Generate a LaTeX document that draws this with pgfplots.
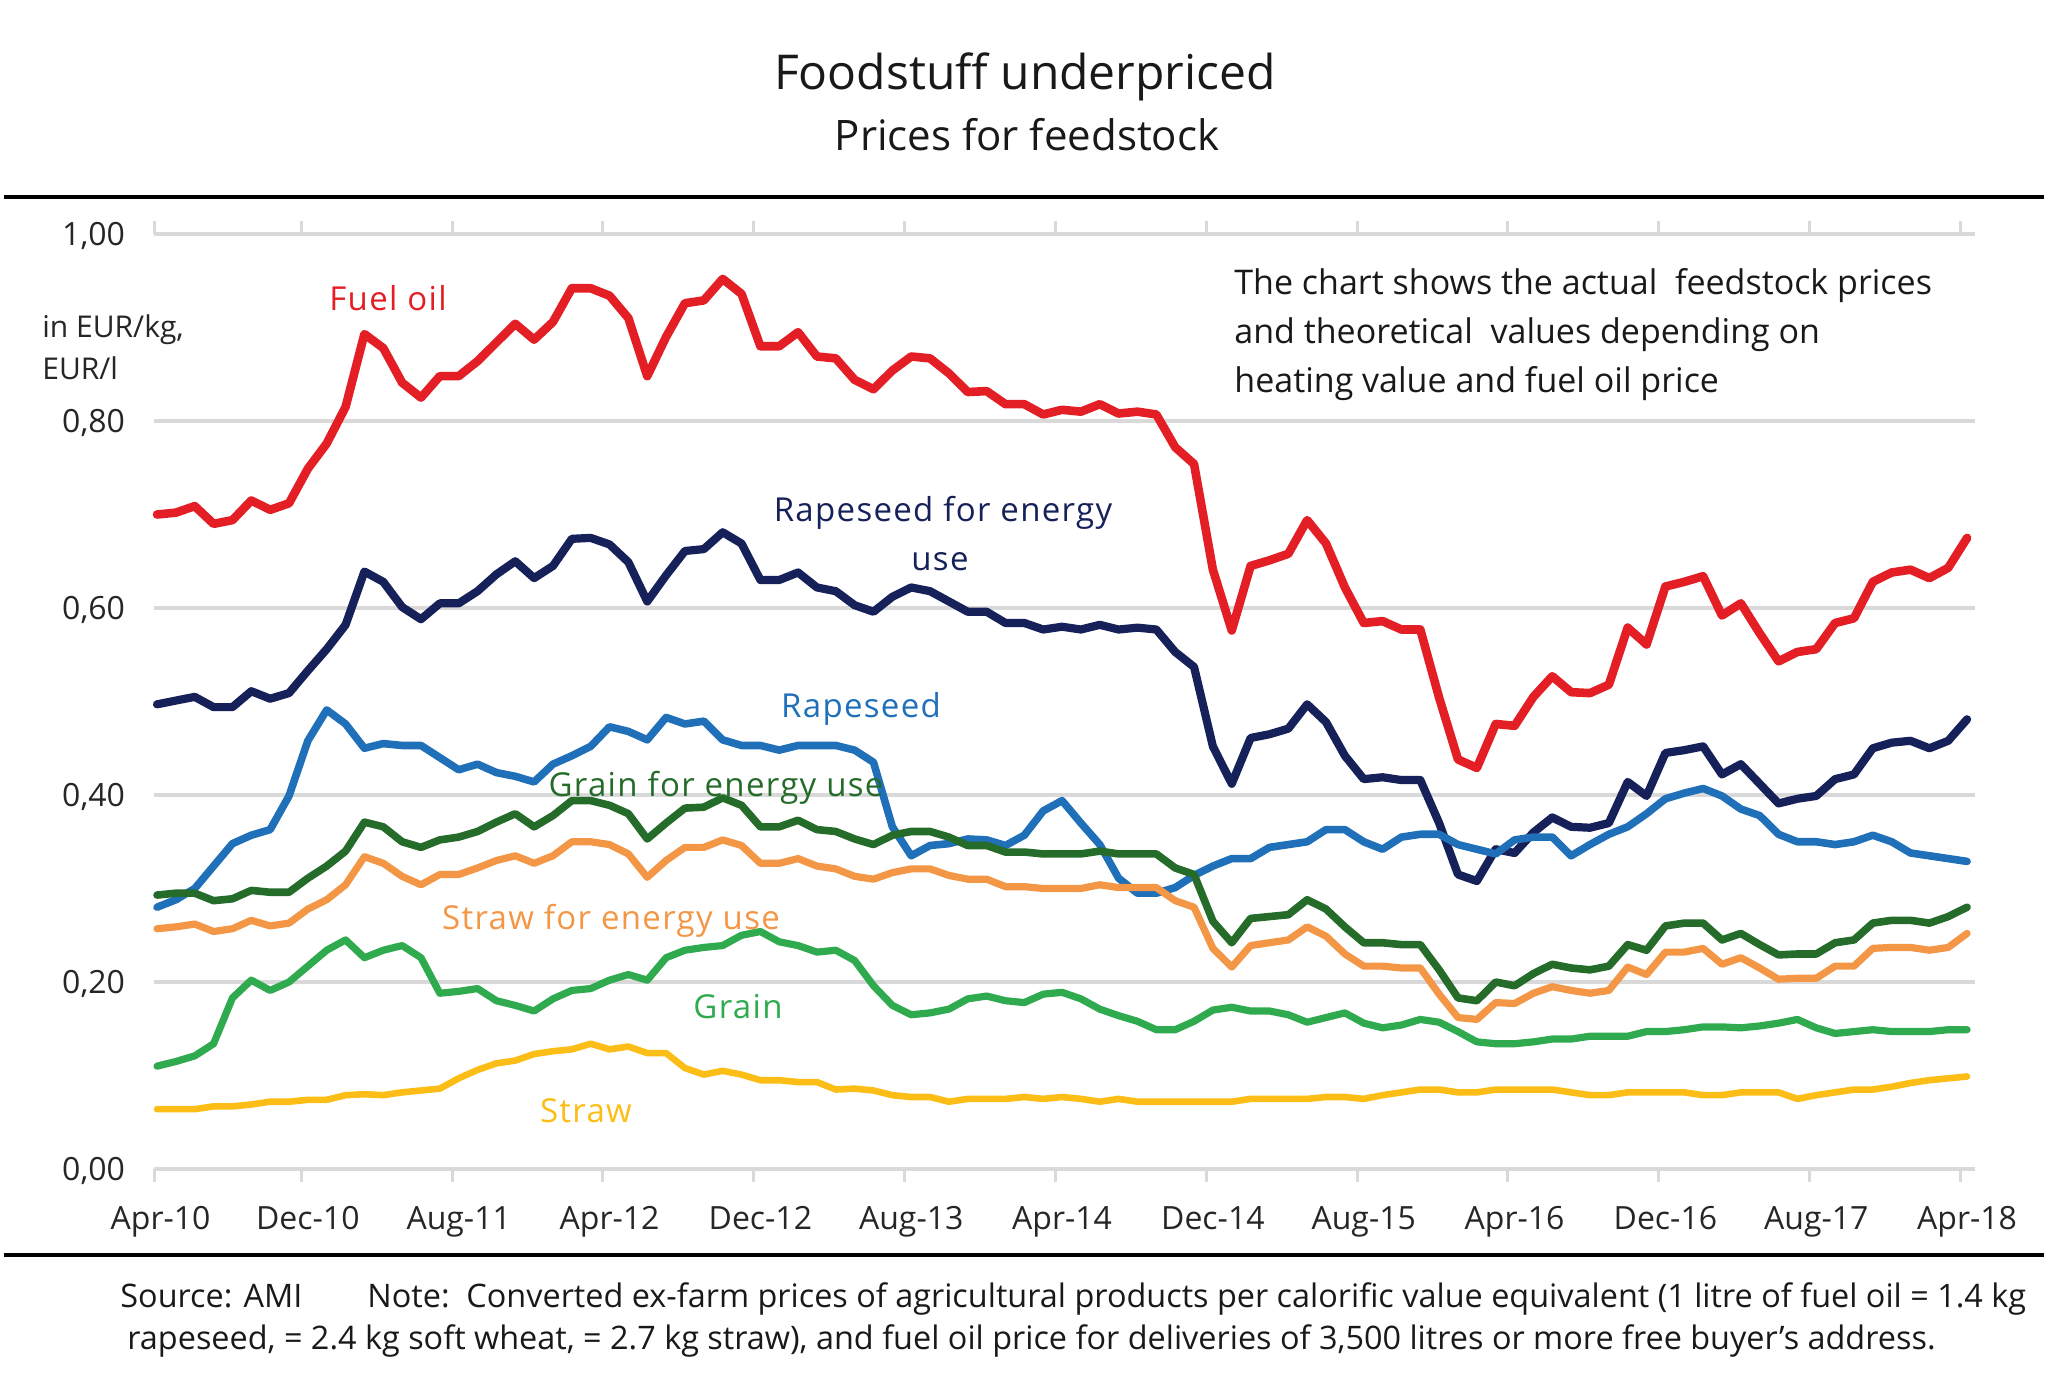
\documentclass[border=0pt]{standalone}
\usepackage{fontspec}
\setmainfont{Open Sans}
\usepackage{pgfplots}
\usepackage{pgfplotstable}
\pgfplotsset{compat=1.18}
\definecolor{cRed}{RGB}{227,30,36}
\definecolor{cNavy}{RGB}{22,33,90}
\definecolor{cBlue}{RGB}{31,112,184}
\definecolor{cDGreen}{RGB}{37,107,42}
\definecolor{cOrange}{RGB}{243,150,70}
\definecolor{cGreen}{RGB}{47,170,79}
\definecolor{cYellow}{RGB}{251,189,22}
\definecolor{gridgray}{RGB}{217,217,217}
\pgfplotstableread{
m fuel rapeen rape grainen strawen grain straw
0 0.700 0.497 0.280 0.293 0.257 0.110 0.064
1 0.702 0.501 0.288 0.295 0.259 0.115 0.064
2 0.709 0.505 0.300 0.295 0.262 0.121 0.064
3 0.690 0.494 0.324 0.287 0.254 0.134 0.067
4 0.694 0.494 0.348 0.289 0.257 0.183 0.067
5 0.715 0.511 0.357 0.298 0.266 0.202 0.069
6 0.705 0.503 0.363 0.296 0.260 0.191 0.072
7 0.712 0.509 0.399 0.296 0.263 0.200 0.072
8 0.749 0.533 0.458 0.311 0.278 0.217 0.074
9 0.776 0.556 0.491 0.324 0.288 0.234 0.074
10 0.815 0.582 0.476 0.340 0.304 0.245 0.079
11 0.893 0.639 0.450 0.371 0.334 0.226 0.080
12 0.878 0.628 0.455 0.366 0.327 0.234 0.079
13 0.841 0.601 0.453 0.350 0.313 0.239 0.082
14 0.825 0.588 0.453 0.344 0.304 0.226 0.084
15 0.848 0.605 0.440 0.352 0.315 0.188 0.086
16 0.848 0.605 0.427 0.355 0.315 0.190 0.097
17 0.864 0.618 0.433 0.361 0.322 0.193 0.106
18 0.884 0.636 0.424 0.371 0.330 0.180 0.113
19 0.904 0.650 0.420 0.380 0.335 0.175 0.116
20 0.887 0.632 0.414 0.366 0.327 0.169 0.123
21 0.906 0.645 0.433 0.378 0.335 0.182 0.126
22 0.942 0.674 0.442 0.394 0.350 0.191 0.128
23 0.942 0.675 0.452 0.394 0.350 0.193 0.134
24 0.934 0.668 0.473 0.389 0.347 0.202 0.128
25 0.910 0.649 0.468 0.380 0.337 0.208 0.131
26 0.848 0.607 0.459 0.353 0.312 0.202 0.124
27 0.890 0.635 0.483 0.370 0.330 0.226 0.124
28 0.926 0.661 0.476 0.386 0.344 0.234 0.108
29 0.929 0.663 0.479 0.387 0.344 0.237 0.101
30 0.952 0.681 0.459 0.397 0.352 0.239 0.105
31 0.936 0.669 0.453 0.389 0.346 0.250 0.101
32 0.880 0.630 0.453 0.366 0.327 0.254 0.095
33 0.880 0.630 0.448 0.366 0.327 0.243 0.095
34 0.895 0.638 0.453 0.373 0.332 0.239 0.093
35 0.869 0.622 0.453 0.363 0.324 0.232 0.093
36 0.867 0.618 0.453 0.361 0.321 0.234 0.085
37 0.844 0.603 0.448 0.353 0.313 0.223 0.086
38 0.834 0.596 0.435 0.347 0.310 0.196 0.084
39 0.854 0.612 0.366 0.357 0.317 0.175 0.079
40 0.869 0.622 0.335 0.361 0.321 0.165 0.077
41 0.867 0.618 0.346 0.361 0.321 0.167 0.077
42 0.851 0.607 0.348 0.355 0.314 0.171 0.072
43 0.831 0.596 0.353 0.346 0.310 0.182 0.075
44 0.832 0.596 0.352 0.346 0.310 0.185 0.075
45 0.818 0.584 0.346 0.339 0.302 0.180 0.075
46 0.818 0.584 0.357 0.339 0.302 0.178 0.077
47 0.807 0.577 0.383 0.337 0.300 0.187 0.075
48 0.812 0.580 0.394 0.337 0.300 0.189 0.077
49 0.810 0.577 0.370 0.337 0.300 0.182 0.075
50 0.818 0.582 0.347 0.340 0.304 0.171 0.072
51 0.808 0.577 0.311 0.337 0.301 0.164 0.075
52 0.810 0.579 0.295 0.337 0.301 0.158 0.072
53 0.807 0.577 0.295 0.337 0.301 0.149 0.072
54 0.772 0.553 0.301 0.322 0.287 0.149 0.072
55 0.754 0.537 0.314 0.315 0.280 0.158 0.072
56 0.641 0.452 0.324 0.265 0.236 0.170 0.072
57 0.576 0.412 0.332 0.242 0.216 0.173 0.072
58 0.645 0.461 0.332 0.268 0.239 0.169 0.075
59 0.651 0.465 0.344 0.270 0.242 0.169 0.075
60 0.658 0.471 0.347 0.272 0.245 0.165 0.075
61 0.694 0.497 0.350 0.288 0.259 0.157 0.075
62 0.669 0.478 0.363 0.278 0.249 0.162 0.077
63 0.622 0.442 0.363 0.259 0.230 0.167 0.077
64 0.584 0.417 0.350 0.242 0.217 0.156 0.075
65 0.586 0.419 0.342 0.242 0.217 0.151 0.079
66 0.577 0.416 0.355 0.240 0.215 0.154 0.082
67 0.577 0.416 0.358 0.240 0.215 0.160 0.085
68 0.504 0.370 0.358 0.213 0.187 0.157 0.085
69 0.438 0.315 0.347 0.183 0.162 0.147 0.082
70 0.429 0.308 0.342 0.180 0.160 0.136 0.082
71 0.476 0.342 0.337 0.200 0.178 0.134 0.085
72 0.474 0.338 0.352 0.196 0.177 0.134 0.085
73 0.505 0.360 0.355 0.209 0.188 0.136 0.085
74 0.527 0.376 0.355 0.219 0.195 0.139 0.085
75 0.510 0.366 0.335 0.215 0.191 0.139 0.082
76 0.509 0.365 0.347 0.213 0.188 0.142 0.079
77 0.518 0.370 0.358 0.217 0.191 0.142 0.079
78 0.579 0.414 0.366 0.240 0.216 0.142 0.082
79 0.561 0.399 0.380 0.234 0.208 0.147 0.082
80 0.623 0.445 0.396 0.260 0.232 0.147 0.082
81 0.628 0.448 0.402 0.263 0.232 0.149 0.082
82 0.634 0.452 0.407 0.263 0.236 0.152 0.079
83 0.592 0.422 0.399 0.245 0.219 0.152 0.079
84 0.605 0.433 0.385 0.252 0.226 0.151 0.082
85 0.573 0.412 0.378 0.240 0.215 0.153 0.082
86 0.543 0.391 0.358 0.229 0.203 0.156 0.082
87 0.553 0.396 0.350 0.230 0.204 0.160 0.075
88 0.556 0.399 0.350 0.230 0.204 0.151 0.079
89 0.584 0.417 0.347 0.242 0.217 0.145 0.082
90 0.589 0.422 0.350 0.245 0.217 0.147 0.085
91 0.628 0.450 0.357 0.263 0.236 0.149 0.085
92 0.638 0.456 0.350 0.266 0.237 0.147 0.088
93 0.641 0.458 0.338 0.266 0.237 0.147 0.092
94 0.632 0.450 0.335 0.263 0.234 0.147 0.095
95 0.643 0.458 0.332 0.270 0.237 0.149 0.097
96 0.675 0.481 0.329 0.280 0.252 0.149 0.099
}\datatable
\newcommand{\lbl}[1]{\fontsize{16.5}{20}\selectfont\addfontfeature{LetterSpace=4}#1}
\begin{document}
\begin{tikzpicture}[x=0.5pt,y=-0.5pt]
\path[use as bounding box] (0,0) rectangle (2048,1388);
\begin{axis}[
  at={(77pt,-584.5pt)}, anchor=south west,
  scale only axis, width=910.5pt, height=467.5pt,
  xmin=-0.16, xmax=96.42, ymin=0, ymax=1,
  clip=false,
  axis line style={draw=none},
  ytick={0,0.2,0.4,0.6,0.8,1},
  yticklabels={{0,00},{0,20},{0,40},{0,60},{0,80},{1,00}},
  ymajorgrids, grid style={draw=gridgray, line width=2pt},
  ytick style={draw=none},
  xtick={-0.16,7.65,15.65,23.65,31.65,39.65,47.65,55.65,63.65,71.65,79.65,87.65,95.65},
  xticklabels={Apr-10,Dec-10,Aug-11,Apr-12,Dec-12,Aug-13,Apr-14,Dec-14,Aug-15,Apr-16,Dec-16,Aug-17,Apr-18},
  tick align=outside, major tick length=6.5pt,
  xtick style={draw=gridgray, line width=1.5pt},
  xticklabel style={font=\fontsize{16}{19}\selectfont, text=black!85, xshift=3.3pt, yshift=-8.5pt},
  yticklabel style={font=\fontsize{16}{19}\selectfont, text=black!85, xshift=-4.5pt, yshift=-1pt},
  every axis plot/.append style={line join=round, line cap=round},
]
\addplot[cRed, line width=4.3pt] table[x=m,y=fuel]{\datatable};
\addplot[cNavy, line width=4.1pt] table[x=m,y=rapeen]{\datatable};
\addplot[cBlue, line width=3.8pt] table[x=m,y=rape]{\datatable};
\addplot[cDGreen, line width=3.8pt] table[x=m,y=grainen]{\datatable};
\addplot[cOrange, line width=3.6pt] table[x=m,y=strawen]{\datatable};
\addplot[cGreen, line width=3.6pt] table[x=m,y=grain]{\datatable};
\addplot[cYellow, line width=3.3pt] table[x=m,y=straw]{\datatable};
\end{axis}
% rules
\draw[line width=2pt, black] (4,197) -- (2044,197);
\draw[line width=2.4pt, black] (4,1255) -- (2044,1255);
% titles
\node[anchor=base, text=black!90, font=\fontsize{24}{29}\selectfont] at (1025,89) {Foodstuff underpriced};
\node[anchor=base, text=black!90, font=\fontsize{21}{26}\selectfont] at (1027,150) {Prices for feedstock};
% unit
\node[anchor=base west, inner sep=0pt, font=\fontsize{15}{18}\selectfont, text=black!85] at (42,337) {in EUR/kg,};
\node[anchor=base west, inner sep=0pt, font=\fontsize{15}{18}\selectfont, text=black!85] at (42,379) {EUR/l};
% annotation
\node[anchor=base west, inner sep=0pt, font=\fontsize{17}{20}\selectfont, text=black!90] at (1234,294) {The chart shows the actual\ \ feedstock prices};
\node[anchor=base west, inner sep=0pt, font=\fontsize{17}{20}\selectfont, text=black!90] at (1234,343) {and theoretical\ \ values depending on};
\node[anchor=base west, inner sep=0pt, font=\fontsize{17}{20}\selectfont, text=black!90] at (1234,392) {heating value and fuel oil price};
% series labels
\node[text=cRed, inner sep=0pt] at (388,298) {\lbl{Fuel oil}};
\node[text=cNavy, inner sep=0pt] at (943,513) {\lbl{Rapeseed for energy}};
\node[text=cNavy, inner sep=0pt] at (940,562) {\lbl{use}};
\node[text=cBlue, inner sep=0pt] at (861,709) {\lbl{Rapeseed}};
\node[text=cDGreen, inner sep=0pt] at (716,788) {\lbl{Grain for energy use}};
\node[text=cOrange, inner sep=0pt] at (611,921) {\lbl{Straw for energy use}};
\node[text=cGreen, inner sep=0pt] at (738,1007) {\lbl{Grain}};
\node[text=cYellow, inner sep=0pt] at (586,1111) {\lbl{Straw}};
% footer
\node[anchor=base west, inner sep=0pt, font=\fontsize{16.2}{19}\selectfont, text=black!90] at (120,1307) {Source: AMI};
\node[anchor=base west, inner sep=0pt, font=\fontsize{16.2}{19}\selectfont, text=black!90] at (367,1307) {Note:\ \ Converted ex-farm prices of agricultural products per calorific value equivalent (1 litre of fuel oil = 1.4 kg};
\node[anchor=base west, inner sep=0pt, font=\fontsize{16.2}{19}\selectfont, text=black!90] at (127,1349) {rapeseed, = 2.4 kg soft wheat, = 2.7 kg straw), and fuel oil price for deliveries of 3,500 litres or more free buyer's address.};
\end{tikzpicture}
\end{document}
